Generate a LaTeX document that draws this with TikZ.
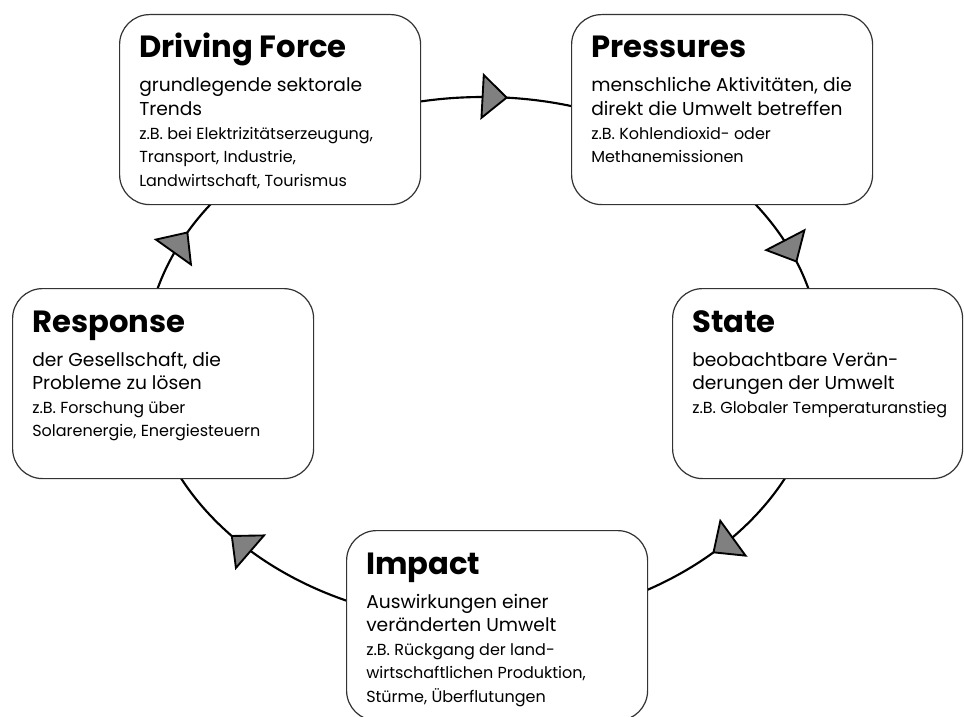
\documentclass[tikz,border=0pt]{standalone}
\usepackage{fontspec}
\setmainfont{Poppins}
\usetikzlibrary{calc}

\definecolor{tipgray}{HTML}{808080}
\definecolor{boxline}{HTML}{333333}

\tikzset{
  x=0.75pt, y=-0.75pt,
  dpsirbox/.style={draw=boxline, line width=0.9pt, fill=white,
    rounded corners=22.5pt, minimum width=225.75pt, minimum height=142.5pt,
    anchor=north west, inner sep=0pt},
  boxtitle/.style={anchor=base west, inner sep=0pt,
    font=\fontsize{23}{27}\selectfont\bfseries},
  boxdesc/.style={anchor=base west, inner sep=0pt,
    font=\fontsize{14}{17}\selectfont},
  boxexample/.style={anchor=base west, inner sep=0pt,
    font=\fontsize{12}{14}\selectfont},
  cycleline/.style={line width=1.6pt, draw=black},
  cycletip/.style={fill=tipgray, draw=black, line width=1.4pt, line join=miter},
}

% arrowhead on the cycle ellipse at a given angle, pointing clockwise
\newcommand\cyclearrow[1]{%
  \pgfmathsetmacro\tipdir{atan2(-197.25*cos(#1), 253.5*sin(#1))}%
  \begin{scope}[shift={($(ctr)+(#1:253.5pt and 197.25pt)$)}, rotate=\tipdir]
    \filldraw[cycletip] (0,0) -- (-24,-21.5) -- (-24,21.5) -- cycle;
  \end{scope}%
}

% title, two description lines and example lines inside a box
\newcommand\dpsirtext[4]{%
  \node[boxtitle] (#1-title) at ([shift={(20,44)}]#1.north west) {#2};
  \foreach \txt [count=\i] in {#3} {
    \node[boxdesc] (#1-d\i) at ([shift={(20,{78+23.5*(\i-1)})}]#1.north west) {\txt};
  }
  \foreach \txt [count=\i] in {#4} {
    \node[boxexample] (#1-e\i) at ([shift={(20,{125+23.5*(\i-1)})}]#1.north west) {\txt};
  }
}

\begin{document}
\begin{tikzpicture}
  \useasboundingbox[fill=white] (0,0) rectangle (964,717);

  % the cycle
  \coordinate (ctr) at (483,360);
  \draw[cycleline] (ctr) ellipse [x radius=253.5pt, y radius=197.25pt];
  \cyclearrow{86}
  \cyclearrow{22}
  \cyclearrow{313}
  \cyclearrow{222}
  \cyclearrow{151}

  % boxes
  \node[dpsirbox] (df) at (119,14) {};
  \node[dpsirbox] (pr) at (571,14) {};
  \node[dpsirbox, minimum width=217.5pt] (st) at (672,288) {};
  \node[dpsirbox] (re) at (12,288) {};
  \node[dpsirbox] (im) at (346,530) {};

  \dpsirtext{df}{Driving Force}
    {grundlegende sektorale, Trends}
    {{z.B. bei Elektrizitätserzeugung,}, {Transport, Industrie,}, {Landwirtschaft, Tourismus}}
  \dpsirtext{pr}{Pressures}
    {{menschliche Aktivitäten, die}, direkt die Umwelt betreffen}
    {z.B. Kohlendioxid- oder, Methanemissionen}
  \dpsirtext{st}{State}
    {beobachtbare Verän-, derungen der Umwelt}
    {z.B. Globaler Temperaturanstieg}
  \dpsirtext{re}{Response}
    {{der Gesellschaft, die}, Probleme zu lösen}
    {z.B. Forschung über, {Solarenergie, Energiesteuern}}
  \dpsirtext{im}{Impact}
    {Auswirkungen einer, veränderten Umwelt}
    {z.B. Rückgang der land-, {wirtschaftlichen Produktion,}, {Stürme, Überflutungen}}
\end{tikzpicture}
\end{document}
